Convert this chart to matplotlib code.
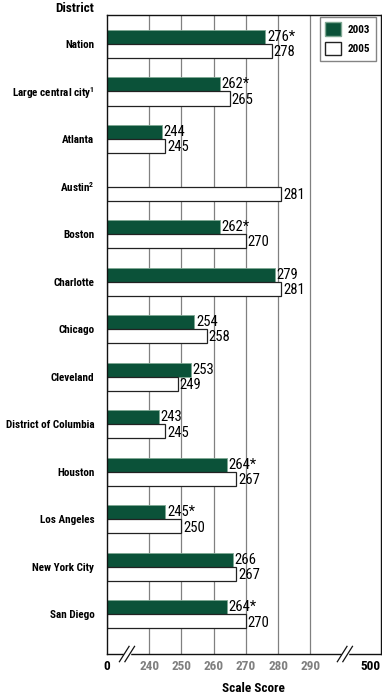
import numpy as np
import matplotlib
matplotlib.use('Agg')
import matplotlib.pyplot as plt
from matplotlib.patches import Patch, Rectangle
from matplotlib.lines import Line2D
import matplotlib.transforms as mtransforms

narrow = ['Roboto Condensed', 'Archivo Narrow', 'DejaVu Sans']
plt.rcParams['mathtext.fontset'] = 'custom'
plt.rcParams['mathtext.bf'] = 'Roboto Condensed:bold'
plt.rcParams['mathtext.rm'] = 'Roboto Condensed'

# data
districts = ['Nation', 'Large central city$^{\\mathbf{1}}$', 'Atlanta', 'Austin$^{\\mathbf{2}}$',
             'Boston', 'Charlotte', 'Chicago', 'Cleveland', 'District of Columbia', 'Houston',
             'Los Angeles', 'New York City', 'San Diego']
score_2003 = [276, 262, 244, np.nan, 262, 279, 254, 253, 243, 264, 245, 266, 264]
score_2005 = [278, 265, 245, 281, 270, 281, 258, 249, 245, 267, 250, 267, 270]
sig_2003 = [True, True, False, False, True, False, False, False, False, True, True, False, True]
grid_vals = [240, 250, 260, 270, 280, 290]
years = ['2003', '2005']

green = '#0B5239'

# broken axis: left edge stands for 0, right edge stands for 500
x_lo, x_hi = 226.9, 311.9

fig = plt.figure(figsize=(3.82, 6.98), dpi=100)
ax = fig.add_axes([0.2801, 0.0630, 0.9974 - 0.2801, 0.9785 - 0.0630])

y = np.arange(len(districts))
h = 0.295

for g in grid_vals:
    ax.axvline(g, color='#808080', lw=0.9, zorder=0)

s03 = np.array(score_2003, dtype=float)
s05 = np.array(score_2005, dtype=float)
ax.barh(y - h / 2, s03 - x_lo, left=x_lo, height=h, color=green,
        edgecolor='#7fa893', lw=0.6, zorder=2)
ax.barh(y + h / 2, s05 - x_lo, left=x_lo, height=h, color='white',
        edgecolor='#222222', lw=0.9, zorder=2)

for i in range(len(districts)):
    if not np.isnan(s03[i]):
        lab = f'{int(s03[i])}' + ('*' if sig_2003[i] else '')
        ax.text(s03[i] + 0.5, y[i] - h / 2, lab, va='center', ha='left',
                fontsize=10.5, family=narrow, zorder=3)
    lab = f'{int(s05[i])}'
    ax.text(s05[i] + 0.5, y[i] + h / 2 + 0.03, lab, va='center', ha='left',
            fontsize=10.5, family=narrow, zorder=3)

ax.set_xlim(x_lo, x_hi)
ax.set_ylim(len(districts) - 1 + 0.84, -0.61)

ax.set_yticks(y)
ax.set_yticklabels(districts, fontsize=8, fontweight='bold', family=narrow)
ax.tick_params(axis='y', length=0, pad=9)

ax.set_xticks([x_lo] + grid_vals + [x_hi])
ax.set_xticklabels(['0'] + [str(g) for g in grid_vals] + ['500'],
                   fontsize=9.5, fontweight='bold', family=narrow)
ax.tick_params(axis='x', length=0, pad=4)
xt = ax.get_xticklabels()
for t in xt[1:-1]:
    t.set_color('#808080')
xt[-1].set_horizontalalignment('right')

for sp in ax.spines.values():
    sp.set_color('#111111')
    sp.set_linewidth(1.0)

# axis break marks
trans = mtransforms.blended_transform_factory(ax.transData, ax.transAxes)
for bx in [233.1, 300.7]:
    ax.add_patch(Rectangle((bx - 0.9, -0.004), 1.8, 0.008, transform=trans,
                           color='white', clip_on=False, zorder=5))
    for off in [-0.85, 0.85]:
        ax.add_line(Line2D([bx + off - 1.5, bx + off + 1.5], [-0.012, 0.012],
                           transform=trans, color='#111111', lw=0.9,
                           clip_on=False, zorder=6))

handles = [Patch(facecolor=green, edgecolor='#7fa893'),
           Patch(facecolor='white', edgecolor='#222222')]
leg = ax.legend(handles, years, loc='upper right', bbox_to_anchor=(0.982, 0.997),
                borderaxespad=0, fancybox=False, handlelength=1.45, handleheight=1.45,
                labelspacing=0.55, borderpad=0.5, handletextpad=0.6,
                prop={'family': narrow, 'weight': 'bold', 'size': 8})
leg.get_frame().set_edgecolor('#666666')
leg.get_frame().set_linewidth(1.0)

fig.text(94 / 382, 1 - 9 / 698, 'District', ha='right', va='center',
         fontsize=9.5, fontweight='bold', family=narrow)
fig.text(253 / 382, 1 - 688 / 698, 'Scale Score', ha='center', va='center',
         fontsize=9.5, fontweight='bold', family=narrow)

fig.savefig('out.png', dpi=100)
